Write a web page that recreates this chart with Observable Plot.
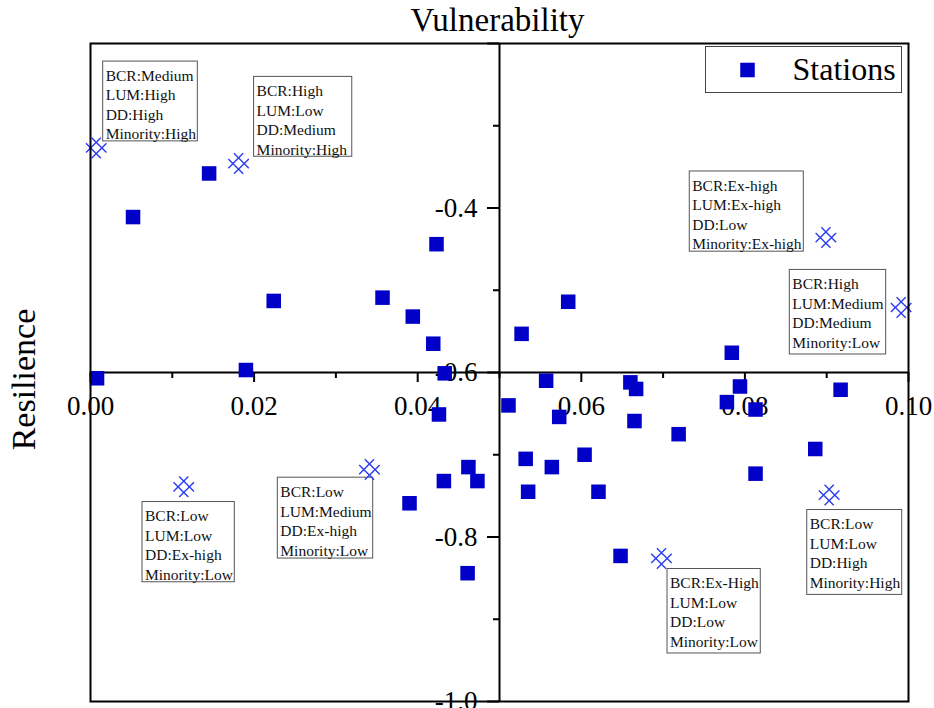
<!DOCTYPE html>
<html>
<head>
<meta charset="utf-8">
<script src="https://cdn.jsdelivr.net/npm/d3@7"></script>
<script src="https://cdn.jsdelivr.net/npm/@observablehq/plot@0.6"></script>
<style>
html, body { margin: 0; padding: 0; background: #fff; }
svg { display: block; }
</style>
</head>
<body>
<div id="chart"></div>
<script>
// ---- Data ----
const stationX = [0.0008, 0.0052, 0.0145, 0.0190, 0.0224, 0.0357, 0.0394, 0.0423, 0.0419, 0.0433,
                  0.0426, 0.0462, 0.0432, 0.0473, 0.0390, 0.0461, 0.0511, 0.0557, 0.0573, 0.0532,
                  0.0564, 0.0535, 0.0604, 0.0621, 0.0660, 0.0667, 0.0665, 0.0719, 0.0648, 0.0778,
                  0.0794, 0.0813, 0.0813, 0.0886, 0.0917, 0.0527, 0.0584, 0.0784];
const stationY = [-0.607, -0.411, -0.358, -0.597, -0.513, -0.509, -0.532, -0.444, -0.565, -0.601,
                  -0.651, -0.715, -0.732, -0.732, -0.759, -0.844, -0.640, -0.610, -0.654, -0.705,
                  -0.715, -0.745, -0.700, -0.745, -0.612, -0.620, -0.659, -0.675, -0.823, -0.636,
                  -0.617, -0.645, -0.723, -0.693, -0.621, -0.553, -0.514, -0.576];

const specialX = [0.0007, 0.0181, 0.0899, 0.0991, 0.0114, 0.0341, 0.0698, 0.0903];
const specialY = [-0.327, -0.346, -0.436, -0.521, -0.739, -0.718, -0.826, -0.749];

const noteBCR = ["Medium", "High", "Ex-high", "High", "Low", "Low", "Ex-High", "Low"];
const noteLUM = ["High", "Low", "Ex-high", "Medium", "Low", "Medium", "Low", "Low"];
const noteDD  = ["High", "Medium", "Low", "Medium", "Ex-high", "Ex-high", "Low", "High"];
const noteMin = ["High", "High", "Ex-high", "Low", "Low", "Low", "Low", "High"];
// annotation box corners (data units)
const noteX1  = [0.00155, 0.0200, 0.07326, 0.08549, 0.00636, 0.0229, 0.07054, 0.08762];
const noteX2  = [0.01312, 0.0320, 0.08720, 0.09727, 0.01764, 0.03456, 0.08194, 0.09923];
const noteTop = [-0.222, -0.2406, -0.3556, -0.4753, -0.7575, -0.7279, -0.8389, -0.7672];
const noteBot = [-0.319, -0.3377, -0.4531, -0.5781, -0.8550, -0.8262, -0.9416, -0.8704];

const xMajorTicks = [0.00, 0.02, 0.04, 0.06, 0.08, 0.10];
const xMinorTicks = [0.01, 0.03, 0.05, 0.07, 0.09];
const yMajorTicks = [-0.2, -0.4, -0.6, -0.8, -1.0];
const yMinorTicks = [-0.3, -0.5, -0.7, -0.9];
const yTickLabels = [-0.4, -0.6, -0.8, -1.0];

// ---- Tables ----
const stations = stationX.map((x, i) => ({x, y: stationY[i]}));
const specials = specialX.map((x, i) => ({x, y: specialY[i]}));
const notes = noteBCR.map((b, i) => ({
  x1: noteX1[i], x2: noteX2[i], top: noteTop[i], bot: noteBot[i],
  label: `BCR:${b}\nLUM:${noteLUM[i]}\nDD:${noteDD[i]}\nMinority:${noteMin[i]}`
}));

// rotated-hash (diamond lattice) symbol
const hashSymbol = {
  draw(ctx, size) {
    const r = Math.sqrt(size / Math.PI);
    const s = 0.4 * r, L = 1.05 * r, k = Math.SQRT1_2;
    const rot = (px, py) => [(px - py) * k, (px + py) * k];
    const segs = [[[s, -L], [s, L]], [[-s, -L], [-s, L]], [[-L, s], [L, s]], [[-L, -s], [L, -s]]];
    for (const [a, b] of segs) {
      const p = rot(a[0], a[1]), q = rot(b[0], b[1]);
      ctx.moveTo(p[0], p[1]);
      ctx.lineTo(q[0], q[1]);
    }
  }
};

const SQ = "#0000c8";
const font = "'Liberation Serif', 'Times New Roman', serif";

const chart = Plot.plot({
  width: 934,
  height: 708,
  marginTop: 43,
  marginBottom: 7,
  marginLeft: 90,
  marginRight: 26,
  x: {domain: [0, 0.1], axis: null},
  y: {domain: [-1.0, -0.2], axis: null},
  style: {fontFamily: font, background: "#fff", color: "#000", overflow: "visible"},
  marks: [
    // titles
    Plot.text(["Vulnerability"], {x: null, y: null, text: d => d, frameAnchor: "top", textAnchor: "middle", lineAnchor: "middle", dx: -2, dy: -23, fontSize: 33, fill: "#000"}),
    Plot.text(["Resilience"], {x: null, y: null, text: d => d, frameAnchor: "left", textAnchor: "middle", lineAnchor: "middle", rotate: -90, dx: -66, dy: 7, fontSize: 34, fill: "#000"}),
    // central axes
    Plot.ruleY([-0.6], {stroke: "#000", strokeWidth: 2}),
    Plot.ruleX([0.05], {stroke: "#000", strokeWidth: 2}),
    Plot.ruleX(xMajorTicks, {x: d => d, y1: -0.6, y2: -0.6, insetBottom: -10, stroke: "#000", strokeWidth: 2}),
    Plot.ruleX(xMinorTicks, {x: d => d, y1: -0.6, y2: -0.6, insetBottom: -6, stroke: "#000", strokeWidth: 2}),
    Plot.ruleY(yMajorTicks, {y: d => d, x1: 0.05, x2: 0.05, insetLeft: -12, stroke: "#000", strokeWidth: 2}),
    Plot.ruleY(yMinorTicks, {y: d => d, x1: 0.05, x2: 0.05, insetLeft: -6, stroke: "#000", strokeWidth: 2}),
    Plot.text(xMajorTicks, {x: d => d, y: -0.6, text: d => d.toFixed(2), dy: 34, fontSize: 27, fill: "#000"}),
    Plot.text(yTickLabels, {x: 0.05, y: d => d, text: d => d.toFixed(1), textAnchor: "end", dx: -22, fontSize: 27, fill: "#000"}),
    // annotation boxes
    Plot.rect(notes, {x1: "x1", x2: "x2", y1: "top", y2: "bot", fill: "none", stroke: "#555", strokeWidth: 1}),
    Plot.text(notes, {x: "x1", y: "top", text: "label", textAnchor: "start", lineAnchor: "top", dx: 2.5, dy: 5.5, fontSize: 15.5, lineHeight: 1.258, fill: "#111"}),
    // points
    Plot.dot(specials, {x: "x", y: "y", symbol: hashSymbol, r: 10, stroke: "#2b3cf2", strokeWidth: 1.4, fill: "none"}),
    Plot.dot(stations, {x: "x", y: "y", symbol: "square", r: 8.2, fill: SQ, stroke: "none"}),
    // legend
    Plot.frame({stroke: "#444", strokeWidth: 1, fill: "#fff", insetTop: 3, insetRight: 7, insetLeft: 615, insetBottom: 609}),
    Plot.dot(["Stations"], {x: null, y: null, frameAnchor: "top-right", dx: -161, dy: 26.5, symbol: "square", r: 8.2, fill: SQ, stroke: "none"}),
    Plot.text(["Stations"], {x: null, y: null, text: d => d, frameAnchor: "top-right", textAnchor: "start", lineAnchor: "middle", dx: -116, dy: 26.5, fontSize: 32, fill: "#000"}),
    // outer frame
    Plot.frame({stroke: "#000", strokeWidth: 2})
  ]
});
document.getElementById("chart").appendChild(chart);
</script>
</body>
</html>
